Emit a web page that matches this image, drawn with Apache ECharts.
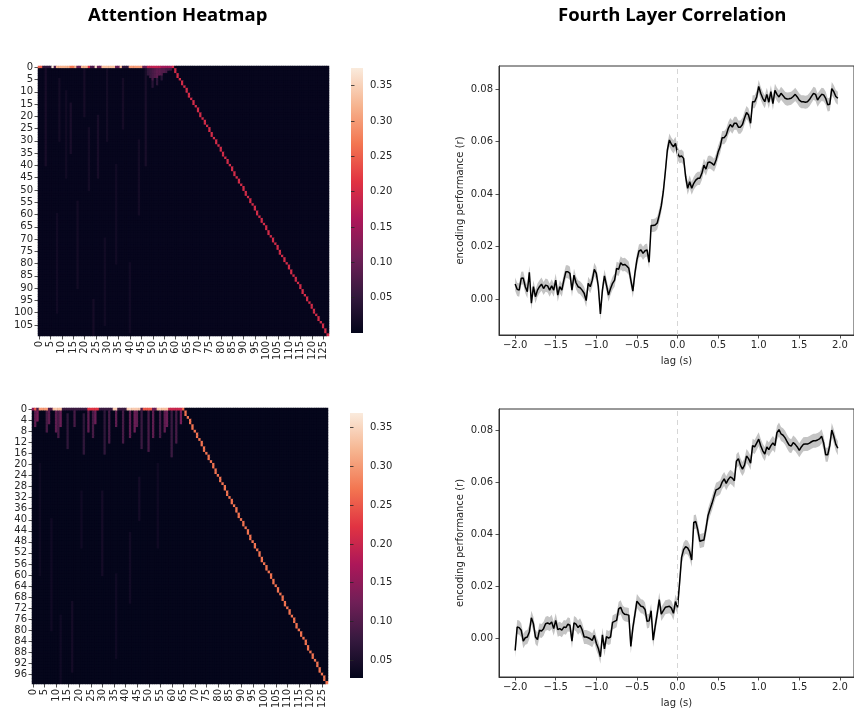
<!DOCTYPE html>
<html><head><meta charset="utf-8">
<script src="https://cdn.jsdelivr.net/npm/echarts@6/dist/echarts.min.js"></script>
<style>html,body{margin:0;padding:0;background:#fff}#c{width:854px;height:713px}</style>
</head><body><div id="c"></div><script>
// ---------------- data ----------------
const lagStart = -2.0, lagStep = 0.025;
const corr1 = [
 0.0057,0.0037,0.0034,0.0079,0.0080,0.0047,0.0028,0.0102,
 -0.0016,0.0047,0.0009,0.0034,0.0047,0.0057,0.0040,0.0053,
 0.0050,0.0034,0.0050,0.0034,0.0072,0.0015,0.0047,0.0034,
 0.0072,0.0104,0.0104,0.0098,0.0034,0.0091,0.0062,0.0047,
 0.0043,0.0034,0.0022,-0.0006,0.0060,0.0047,0.0072,0.0113,
 0.0098,0.0047,-0.0057,0.0034,0.0088,0.0053,0.0015,0.0040,
 0.0060,0.0072,0.0117,0.0113,0.0138,0.0130,0.0132,0.0126,
 0.0117,0.0072,0.0030,0.0098,0.0149,0.0183,0.0187,0.0174,
 0.0184,0.0187,0.0140,0.0280,0.0280,0.0282,0.0290,0.0320,
 0.0355,0.0409,0.0485,0.0568,0.0606,0.0590,0.0580,0.0593,
 0.0555,0.0542,0.0545,0.0536,0.0466,0.0422,0.0447,0.0422,
 0.0441,0.0453,0.0460,0.0460,0.0479,0.0510,0.0495,0.0520,
 0.0522,0.0517,0.0510,0.0530,0.0560,0.0580,0.0615,0.0615,
 0.0625,0.0650,0.0665,0.0655,0.0670,0.0670,0.0655,0.0655,
 0.0665,0.0690,0.0711,0.0701,0.0670,0.0752,0.0752,0.0770,
 0.0810,0.0784,0.0765,0.0752,0.0780,0.0750,0.0790,0.0745,
 0.0795,0.0780,0.0770,0.0784,0.0775,0.0765,0.0762,0.0763,
 0.0765,0.0772,0.0780,0.0770,0.0758,0.0752,0.0752,0.0750,
 0.0752,0.0760,0.0772,0.0784,0.0780,0.0758,0.0770,0.0780,
 0.0778,0.0765,0.0740,0.0742,0.0802,0.0790,0.0772,0.0765
];
const corr2 = [
 -0.0048,0.0042,0.0040,0.0030,-0.0012,0.0001,0.0004,0.0023,
 0.0078,0.0055,0.0004,-0.0006,0.0030,0.0027,0.0036,0.0055,
 0.0058,0.0053,0.0062,0.0036,0.0068,0.0032,0.0036,0.0030,
 0.0042,0.0040,0.0053,0.0049,-0.0012,0.0058,0.0053,0.0040,
 0.0049,0.0032,0.0004,0.0004,0.0001,-0.0003,-0.0009,0.0010,
 -0.0020,-0.0040,-0.0072,0.0012,-0.0042,0.0005,0.0000,0.0004,
 0.0060,0.0064,0.0068,0.0112,0.0118,0.0098,0.0091,0.0090,
 0.0088,-0.0032,0.0040,0.0090,0.0142,0.0132,0.0122,0.0120,
 0.0110,0.0064,0.0066,0.0105,-0.0008,0.0045,0.0094,0.0148,
 0.0092,0.0105,0.0118,0.0120,0.0122,0.0115,0.0095,0.0140,
 0.0118,0.0210,0.0310,0.0340,0.0351,0.0347,0.0332,0.0300,
 0.0445,0.0448,0.0415,0.0372,0.0375,0.0377,0.0420,0.0470,
 0.0495,0.0518,0.0545,0.0570,0.0574,0.0580,0.0600,0.0612,
 0.0595,0.0610,0.0620,0.0615,0.0605,0.0680,0.0690,0.0665,
 0.0650,0.0665,0.0700,0.0690,0.0673,0.0740,0.0735,0.0750,
 0.0765,0.0740,0.0720,0.0708,0.0735,0.0725,0.0740,0.0750,
 0.0740,0.0790,0.0802,0.0785,0.0780,0.0770,0.0755,0.0742,
 0.0738,0.0752,0.0745,0.0735,0.0722,0.0735,0.0745,0.0746,
 0.0746,0.0750,0.0755,0.0759,0.0759,0.0762,0.0766,0.0776,
 0.0750,0.0705,0.0705,0.0740,0.0800,0.0776,0.0745,0.0730
];
const ciHalf1 = 0.0025, ciHalf2 = 0.0027;
const lagTicks = [-2.0,-1.5,-1.0,-0.5,0.0,0.5,1.0,1.5,2.0];
const perfTicks = [0.00,0.02,0.04,0.06,0.08];
const cbTicks = [0.05,0.10,0.15,0.20,0.25,0.30,0.35];

// heatmap 1 (110 query rows x 128 key columns)
const hm1Rows = 110, hm1Cols = 128, hm1Bg = 0.004;
const hm1Top = [0.25,0.25,0.05,0.05,0.05,0.05,0.37,0.08,0.32,0.32,0.32,0.32,0.32,0.32,0.27,0.27,0.32,0.10,0.10,0.32,
 0.32,0.32,0.20,0.08,0.08,0.36,0.10,0.10,0.33,0.33,0.33,0.33,0.33,0.33,0.10,0.10,0.33,0.05,0.05,0.05,
 0.30,0.30,0.30,0.30,0.30,0.30,0.10,0.10,0.18,0.18,0.18,0.18,0.18,0.18,0.15,0.15,0.15,0.15,0.15];
const hm1Streaks = [[3,1,40,0.022],[9,5,30,0.018],[12,10,45,0.016],[14,15,35,0.024],[20,1,20,0.02],[22,25,50,0.018],
 [26,20,45,0.022],[30,1,30,0.018],[34,40,80,0.016],[37,5,25,0.02],[44,30,60,0.018],[47,1,40,0.024],
 [48,1,3,0.05],[49,1,4,0.06],[50,1,5,0.07],[51,1,4,0.08],[52,1,4,0.09],[53,1,3,0.09],[54,1,3,0.08],[55,1,2,0.08],[56,1,2,0.07],[57,1,1,0.07],[58,1,1,0.06],
 [50,6,8,0.04],[52,5,7,0.045],[54,4,5,0.04],
 [8,60,100,0.016],[17,55,90,0.018],[29,70,105,0.016],[40,80,108,0.016],[24,95,109,0.02]];
const hm1DiagCol = [59,60,60,61,61,62,63,63,64,65,65,66,66,67,68,68,69,70,70,71,71,72,73,73,74,75,75,76,76,77,
 78,78,79,80,80,81,81,82,83,83,84,85,85,86,86,87,88,88,89,90,90,91,91,92,93,93,94,95,95,96,
 96,97,98,98,99,100,100,101,101,102,103,103,104,105,105,106,106,107,108,108,109,110,110,111,111,112,113,113,114,115,
 115,116,116,117,118,118,119,120,120,121,121,122,123,123,124,125,125,126,126,127];
const hm1DiagVal = 0.20;

// heatmap 2 (100 query rows x 128 key columns)
const hm2Rows = 100, hm2Cols = 128, hm2Bg = 0.029;
const hm2Top = [0.15,0.25,0.10,0.30,0.30,0.30,0.30,0.10,0.10,0.33,0.34,0.33,0.33,0.08,0.08,0.08,0.08,0.08,0.08,0.08,
 0.08,0.08,0.08,0.08,0.22,0.22,0.22,0.22,0.22,0.08,0.08,0.08,0.08,0.08,0.08,0.34,0.34,0.08,0.08,0.08,
 0.08,0.34,0.35,0.34,0.34,0.34,0.34,0.10,0.25,0.25,0.25,0.25,0.12,0.12,0.33,0.34,0.33,0.33,0.33,0.20,
 0.20,0.20,0.20,0.20,0.20];
const hm2Streaks = [[1,1,6,0.11],[2,1,4,0.13],[6,1,8,0.09],[7,1,5,0.11],[10,1,8,0.11],[11,1,10,0.09],[12,1,6,0.12],
 [15,2,14,0.07],[18,1,6,0.09],[22,2,16,0.07],[24,1,8,0.11],[26,1,10,0.09],[27,1,5,0.12],[31,1,16,0.07],[33,1,12,0.09],
 [36,1,6,0.11],[39,1,12,0.09],[42,1,10,0.11],[44,1,8,0.12],[45,1,6,0.11],[47,1,14,0.08],[50,1,15,0.09],[52,1,10,0.11],
 [55,1,10,0.09],[57,1,8,0.11],[58,1,6,0.12],[60,1,17,0.08],[62,1,12,0.09],[64,1,5,0.13],
 [30,30,60,0.045],[46,25,40,0.045],[42,45,70,0.042],[17,70,95,0.045],[8,40,80,0.04],[36,60,90,0.04],[54,20,50,0.04],
 [21,30,50,0.04],[3,20,60,0.038],[12,75,99,0.04]];
const hm2DiagCol = [65,66,66,67,68,68,69,69,70,71,71,72,73,73,74,74,75,76,76,77,78,78,79,79,80,81,81,82,83,83,
 84,84,85,86,86,87,88,88,89,89,90,91,91,92,93,93,94,94,95,96,96,97,98,98,99,99,100,101,101,102,
 103,103,104,104,105,106,106,107,108,108,109,109,110,111,111,112,113,113,114,114,115,116,116,117,118,118,119,119,120,121,
 121,122,123,123,124,124,125,126,126,127];
const hm2DiagVal = 0.27;

// ---------------- build ----------------
const lags = corr1.map((_, i) => +(lagStart + i * lagStep).toFixed(3));
function buildHeat(nR, nC, bg, top, streaks, dcol, dval) {
  const m = Array.from({length: nR}, () => new Array(nC).fill(bg));
  streaks.forEach(([c, r0, r1, v]) => { for (let r = r0; r <= r1 && r < nR; r++) m[r][c] = v; });
  top.forEach((v, c) => { m[0][c] = v; });
  dcol.forEach((c, r) => { m[r][c] = dval; });
  const out = [];
  for (let r = 0; r < nR; r++) for (let c = 0; c < nC; c++) out.push([c, r, m[r][c]]);
  return out;
}
const hm1Data = buildHeat(hm1Rows, hm1Cols, hm1Bg, hm1Top, hm1Streaks, hm1DiagCol, hm1DiagVal);
const hm2Data = buildHeat(hm2Rows, hm2Cols, hm2Bg, hm2Top, hm2Streaks, hm2DiagCol, hm2DiagVal);
const rocket = ['#03051A','#35193E','#701F57','#AD1759','#E13342','#F37651','#F6B48F','#FAEBDD'];
const rocketGrad = {type:'linear', x:0, y:1, x2:0, y2:0, colorStops: rocket.map((c,i)=>({offset:i/7, color:c}))};
const F = 'DejaVu Sans', TC = '#262626';
const cats = n => Array.from({length:n}, (_, i) => String(i));

function heatX(gi, n) {
  return {gridIndex: gi, type: 'category', data: cats(n), axisLine: {show: false},
    axisTick: {show: true, interval: 4, alignWithLabel: true, length: 3.5, lineStyle: {color: TC, width: 0.8}},
    axisLabel: {interval: 4, rotate: 90, fontSize: 10, color: TC, fontFamily: F, margin: 5},
    splitLine: {show: false}, splitArea: {show: false}};
}
function heatY(gi, n, step) {
  return {gridIndex: gi, type: 'category', inverse: true, data: cats(n), axisLine: {show: false},
    axisTick: {show: true, interval: step - 1, alignWithLabel: true, length: 3.5, lineStyle: {color: TC, width: 0.8}},
    axisLabel: {interval: step - 1, fontSize: 10, color: TC, fontFamily: F, margin: 5},
    splitLine: {show: false}, splitArea: {show: false}};
}
function cbY(gi, mn, mx) {
  return {gridIndex: gi, type: 'value', position: 'right', min: mn, max: mx, axisLine: {show: false},
    axisTick: {show: true, customValues: cbTicks, length: 3.5, lineStyle: {color: TC, width: 0.8}},
    axisLabel: {customValues: cbTicks, fontSize: 10, color: TC, fontFamily: F, margin: 7, formatter: v => v.toFixed(2)},
    splitLine: {show: false}};
}
function lineX(gi) {
  return {gridIndex: gi, type: 'value', min: -2.19875, max: 2.17375, name: 'lag (s)', nameLocation: 'middle', nameGap: 21,
    nameTextStyle: {fontSize: 10, color: TC, fontFamily: F},
    axisLine: {show: true, onZero: false, lineStyle: {color: '#333', width: 1}},
    axisTick: {show: true, customValues: lagTicks, length: 3.5, lineStyle: {color: TC, width: 0.8}},
    axisLabel: {customValues: lagTicks, fontSize: 10, color: TC, fontFamily: F, margin: 5,
      formatter: v => (v < 0 ? '\u2212' : '') + Math.abs(v).toFixed(1)},
    splitLine: {show: false}};
}
function lineY(gi, mn, mx) {
  return {gridIndex: gi, type: 'value', min: mn, max: mx, name: 'encoding performance (r)', nameLocation: 'middle', nameGap: 34,
    nameTextStyle: {fontSize: 10, color: TC, fontFamily: F},
    axisLine: {show: true, onZero: false, lineStyle: {color: '#333', width: 1}},
    axisTick: {show: true, customValues: perfTicks, length: 3.5, lineStyle: {color: TC, width: 0.8}},
    axisLabel: {customValues: perfTicks, fontSize: 10, color: TC, fontFamily: F, margin: 6, formatter: v => v.toFixed(2)},
    splitLine: {show: false}};
}
function band(gi, vals, half) {
  return {type: 'custom', xAxisIndex: gi, yAxisIndex: gi, data: [[0, 0]], clip: false, silent: true, z: 1,
    renderItem: (p, api) => {
      const up = lags.map((x, i) => api.coord([x, vals[i] + half]));
      const lo = lags.map((x, i) => api.coord([x, vals[i] - half])).reverse();
      return {type: 'polygon', shape: {points: up.concat(lo)}, style: {fill: '#c4c4c4', stroke: null}};
    }};
}
function line(gi, vals) {
  return {type: 'line', xAxisIndex: gi, yAxisIndex: gi, data: lags.map((x, i) => [x, vals[i]]), symbol: 'none', z: 3,
    lineStyle: {color: '#000', width: 1.5}, silent: true,
    markLine: {silent: true, symbol: ['none', 'none'], label: {show: false},
      lineStyle: {color: '#d6d6d6', type: [5, 4], width: 1}, data: [{xAxis: 0}]}};
}
const heatSeries = (gi, d) => ({type: 'heatmap', xAxisIndex: gi, yAxisIndex: gi, data: d, progressive: 0,
  itemStyle: {borderWidth: 0}, emphasis: {disabled: true}, silent: true});

const chart = echarts.init(document.getElementById('c'), null, {renderer: 'canvas'});
chart.setOption({
  animation: false,
  backgroundColor: '#fff',
  textStyle: {fontFamily: F},
  graphic: [
    {type: 'text', left: 88, top: 6, style: {text: 'Attention Heatmap', font: 'bold 18.5px "Open Sans"', fill: '#000'}},
    {type: 'text', left: 558, top: 6, style: {text: 'Fourth Layer Correlation', font: 'bold 18.5px "Open Sans"', fill: '#000'}}
  ],
  grid: [
    {left: 38, top: 66, width: 291, height: 270, show: true, backgroundColor: '#03051A', borderWidth: 0},
    {left: 351, top: 68, width: 12, height: 265, show: true, backgroundColor: rocketGrad, borderWidth: 0},
    {left: 499, top: 66, width: 359, height: 269, show: true, borderColor: '#333', borderWidth: 1, backgroundColor: 'transparent'},
    {left: 32, top: 408, width: 296, height: 276, show: true, backgroundColor: '#03051A', borderWidth: 0},
    {left: 350, top: 413, width: 13, height: 265, show: true, backgroundColor: rocketGrad, borderWidth: 0},
    {left: 499, top: 409, width: 359, height: 268, show: true, borderColor: '#333', borderWidth: 1, backgroundColor: 'transparent'}
  ],
  xAxis: [
    heatX(0, hm1Cols),
    {gridIndex: 1, type: 'value', show: false, min: 0, max: 1},
    lineX(2),
    heatX(3, hm2Cols),
    {gridIndex: 4, type: 'value', show: false, min: 0, max: 1},
    lineX(5)
  ],
  yAxis: [
    heatY(0, hm1Rows, 5),
    cbY(1, 0, 0.375),
    lineY(2, -0.0137, 0.0888),
    heatY(3, hm2Rows, 4),
    cbY(4, 0.027, 0.369),
    lineY(5, -0.0150, 0.0881)
  ],
  visualMap: [
    {type: 'continuous', seriesIndex: 0, dimension: 2, min: 0, max: 0.375, show: false, inRange: {color: rocket}},
    {type: 'continuous', seriesIndex: 1, dimension: 2, min: 0.027, max: 0.369, show: false, inRange: {color: rocket}}
  ],
  series: [
    heatSeries(0, hm1Data),
    heatSeries(3, hm2Data),
    band(2, corr1, ciHalf1),
    line(2, corr1),
    band(5, corr2, ciHalf2),
    line(5, corr2)
  ]
});
</script></body></html>
